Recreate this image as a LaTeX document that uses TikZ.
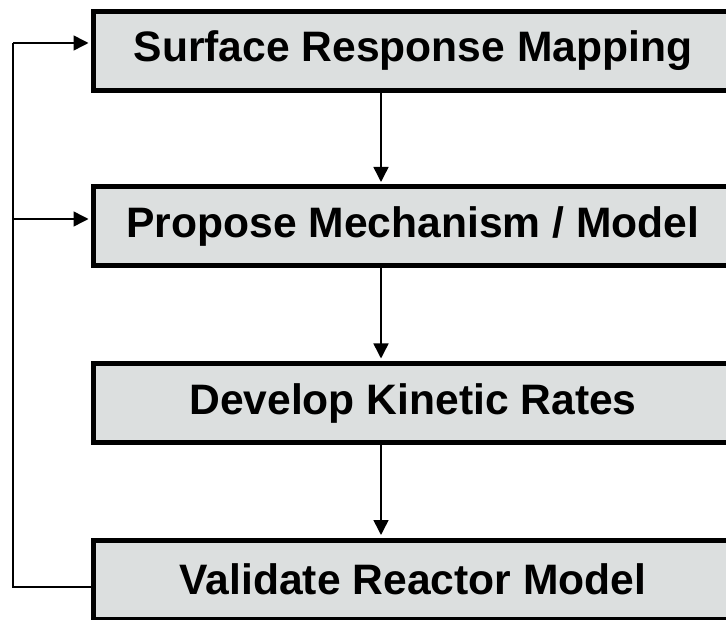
\documentclass[tikz,border=0pt]{standalone}
\usepackage{fontspec}
\setmainfont{Liberation Sans}
\usetikzlibrary{arrows.meta}
\definecolor{boxfill}{HTML}{DCDFDF}
\tikzset{
  stagebox/.style={draw=black, line width=5pt, fill=boxfill, rectangle,
    minimum width=639pt, minimum height=79pt, inner sep=0pt,
    font=\fontsize{42.6}{48}\selectfont\bfseries},
  flowarrow/.style={line width=1.5pt, -{Triangle[length=15pt,width=15pt]}, shorten >=2.5pt},
  flowline/.style={line width=1.5pt}
}
\begin{document}
\begin{tikzpicture}[x=1pt,y=-1pt]
\useasboundingbox (0,0) rectangle (726,620);
\begin{scope}
\clip (0,0) rectangle (726,620);
\node[stagebox] (b1) at (413,51) {Surface Response Mapping};
\node[stagebox] (b2) at (413,226.5) {Propose Mechanism / Model};
\node[stagebox] (b3) at (413,403) {Develop Kinetic Rates};
\node[stagebox] (b4) at (413,579.5) {Validate Reactor Model};
\end{scope}
\coordinate (ax) at (381,0);
\coordinate (c1) at (13,43);
\coordinate (c2) at (13,219);
\coordinate (c4) at (13,587);
\draw[flowarrow] (b1.south -| ax) -- (b2.north -| ax);
\draw[flowarrow] (b2.south -| ax) -- (b3.north -| ax);
\draw[flowarrow] (b3.south -| ax) -- (b4.north -| ax);
\draw[flowline] (b4.west |- c4) -- (c4) -- (c1);
\draw[flowarrow] (c1) -- (b1.west |- c1);
\draw[flowarrow] (c2) -- (b2.west |- c2);
\end{tikzpicture}
\end{document}
